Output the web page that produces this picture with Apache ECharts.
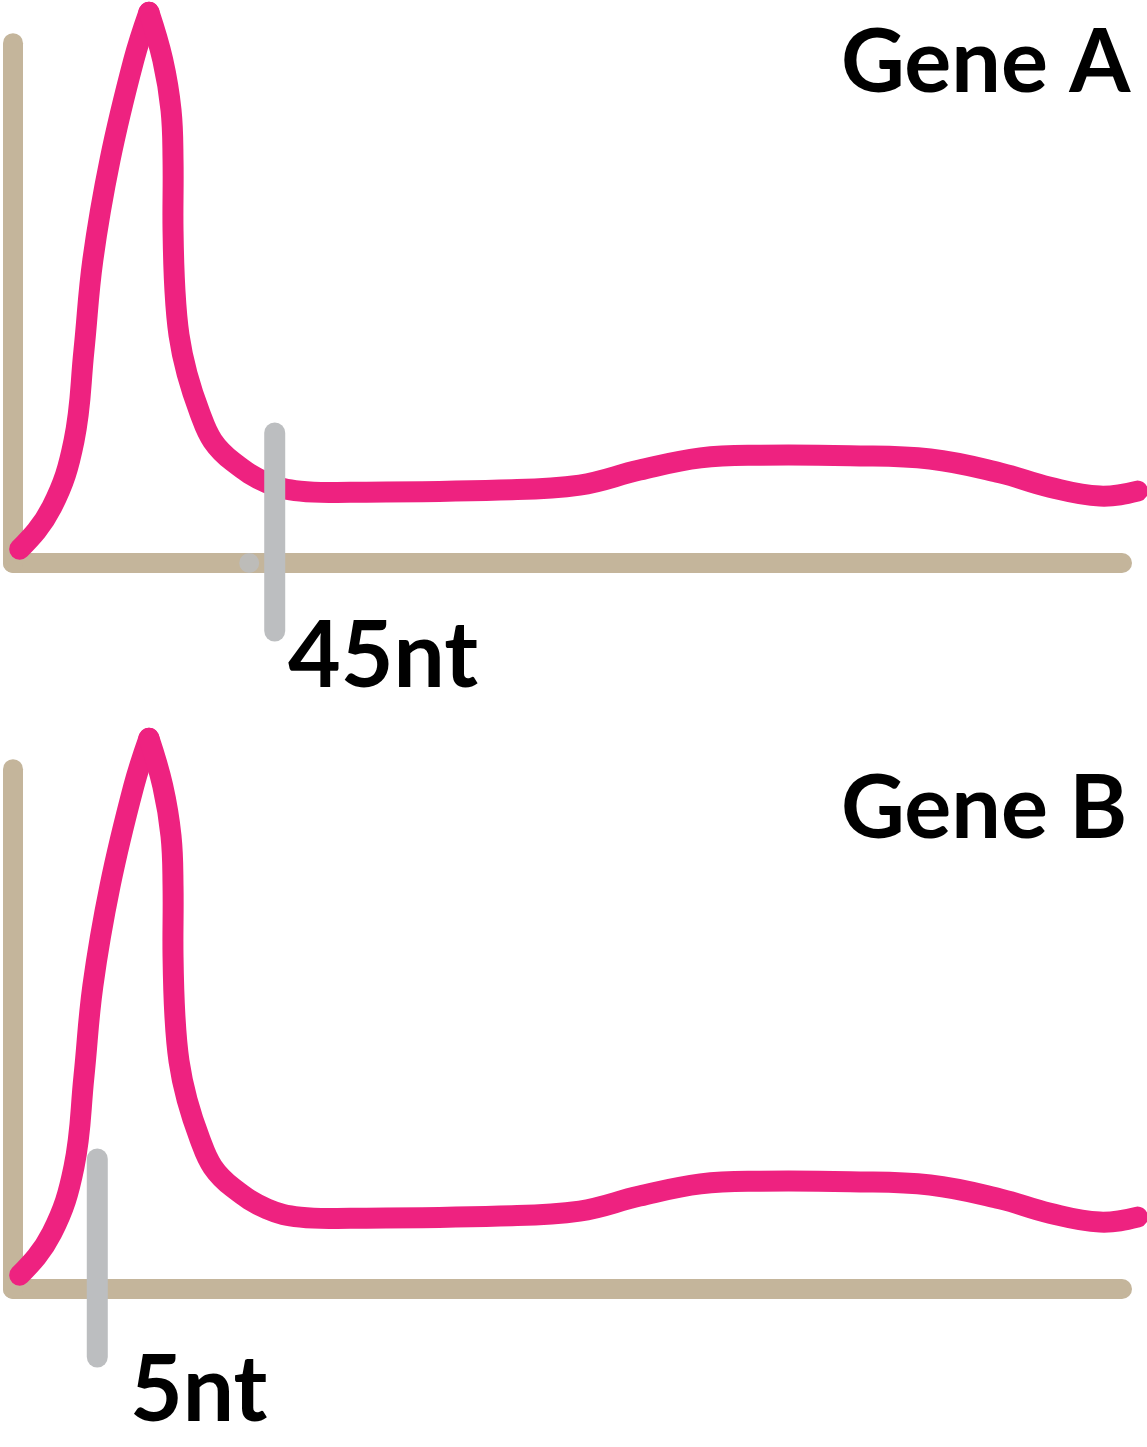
<!DOCTYPE html>
<html>
<head>
<meta charset="utf-8">
<script src="https://cdn.jsdelivr.net/npm/echarts@6/dist/echarts.min.js"></script>
<style>
html,body{margin:0;padding:0;background:#fff;}
#chart{width:1147px;height:1447px;}
</style>
</head>
<body>
<div id="chart"></div>
<script>
// ---- data (x: position along transcript, 0-100 axis units; y: signal, 0-100) ----
const panelTitles = ['Gene A', 'Gene B'];
const markerLabels = ['45nt', '5nt'];
// rising flank of the profile (start -> peak)
const riseProfile = [[0.6,2.5],[3.5,10.1],[5.5,22.1],[6.4,38.5],[7.2,54.8],[8.75,72.9],[10.9,91.0],[12.26,99.6]];
// falling flank and tail (peak -> end)
const fallProfile = [[12.26,99.6],[13.5,91.0],[14.25,81.9],[14.43,72.9],[14.43,60.2],[14.6,49.4],[14.97,41.2],[15.7,34.2],[16.86,27.1],[18.0,22.1],[19.84,18.3],[22.9,14.5],[25.9,13.0],[30.4,12.8],[43.9,13.2],[51.1,14.1],[56.5,16.8],[62.0,19.0],[67.4,19.5],[75.5,19.4],[82.7,18.8],[89.0,16.3],[93.5,13.7],[98.0,12.1],[101.4,13.0]];
// cut-site marker positions (x) and vertical extent (y)
const markerX = [23.6, 7.6];
const markerYRange = [23.5, -12.3];
const axisDotA = [[21.3, 0]];
const yAxisTop = 94;

const TAN = '#C4B59B', PINK = '#EE2280', GRAY = '#BCBEC0';
const LW = 20;

const chart = echarts.init(document.getElementById('chart'), null, {renderer:'canvas'});

const grids = [
  {left:13, right:25, top:10, height:553},
  {left:13, right:25, top:736, height:553}
];

function dist(a,b){ return Math.hypot(b[0]-a[0], b[1]-a[1]) || 1e-6; }
// smooth bezier path through already-projected pixel points
function smoothPath(pts, s){
  let d = 'M' + pts[0][0].toFixed(2) + ' ' + pts[0][1].toFixed(2);
  const n = pts.length;
  for (let i = 0; i < n - 1; i++){
    const p0 = pts[i-1], p1 = pts[i], p2 = pts[i+1], p3 = pts[i+2];
    const d12 = dist(p1,p2);
    let c1, c2;
    if (p3) { const r = d12/(d12+dist(p2,p3)); c2 = [p2[0]-(p3[0]-p1[0])*s*r, p2[1]-(p3[1]-p1[1])*s*r]; }
    if (p0) { const r = d12/(dist(p0,p1)+d12); c1 = [p1[0]+(p2[0]-p0[0])*s*r, p1[1]+(p2[1]-p0[1])*s*r]; }
    if (!c2) c2 = c1 ? [p2[0]+(c1[0]-p2[0])*0.5, p2[1]+(c1[1]-p2[1])*0.5] : p2;
    if (!c1) c1 = [p1[0]+(c2[0]-p1[0])*0.5, p1[1]+(c2[1]-p1[1])*0.5];
    d += ' C' + c1[0].toFixed(2)+' '+c1[1].toFixed(2)+' '+c2[0].toFixed(2)+' '+c2[1].toFixed(2)+' '+p2[0].toFixed(2)+' '+p2[1].toFixed(2);
  }
  return d;
}

function axisLineSeries(i){
  return {type:'line', xAxisIndex:i, yAxisIndex:i, data:[[0,0],[0,yAxisTop]], symbol:'none', clip:false, z:1,
    lineStyle:{color:TAN, width:LW, cap:'round'}, silent:true};
}
function curve(i, profile){
  return {type:'custom', coordinateSystem:'cartesian2d', xAxisIndex:i, yAxisIndex:i, data:[profile[0]], clip:false, z:3, silent:true,
    renderItem: function(params, api){
      const pts = profile.map(p => api.coord(p));
      return {type:'path', shape:{pathData: smoothPath(pts, 0.4)},
        style:{fill:null, stroke:PINK, lineWidth:LW+1, lineCap:'round', lineJoin:'round'}};
    }};
}
function marker(i){
  return {type:'line', xAxisIndex:i, yAxisIndex:i, data:[[markerX[i], markerYRange[0]],[markerX[i], markerYRange[1]]], symbol:'none', clip:false, z:5,
    lineStyle:{color:GRAY, width:LW+1, cap:'round'}, silent:true};
}

const option = {
  animation:false,
  backgroundColor:'#fff',
  grid: grids,
  xAxis: grids.map((g,i)=>({type:'value', gridIndex:i, min:0, max:100,
    axisLine:{show:true, onZero:false, lineStyle:{color:TAN, width:LW, cap:'round'}},
    axisTick:{show:false}, axisLabel:{show:false}, splitLine:{show:false}})),
  yAxis: grids.map((g,i)=>({type:'value', gridIndex:i, min:0, max:100,
    axisLine:{show:false}, axisTick:{show:false}, axisLabel:{show:false}, splitLine:{show:false}})),
  series: [
    axisLineSeries(0), axisLineSeries(1),
    curve(0, riseProfile), curve(0, fallProfile),
    curve(1, riseProfile), curve(1, fallProfile),
    {type:'scatter', xAxisIndex:0, yAxisIndex:0, data:axisDotA, symbolSize:20, clip:false, z:4,
      itemStyle:{color:GRAY}, silent:true},
    marker(0), marker(1)
  ],
  graphic: [
    {type:'text', left:841, top:20, style:{text:panelTitles[0], font:'bold 88px Lato', fill:'#000'}},
    {type:'text', left:841, top:766, style:{text:panelTitles[1], font:'bold 88px Lato', fill:'#000'}},
    {type:'text', left:288, top:612, style:{text:markerLabels[0], font:'bold 91px Lato', fill:'#000'}},
    {type:'text', left:130, top:1346, style:{text:markerLabels[1], font:'bold 91px Lato', fill:'#000'}}
  ]
};
chart.setOption(option);
</script>
</body>
</html>
